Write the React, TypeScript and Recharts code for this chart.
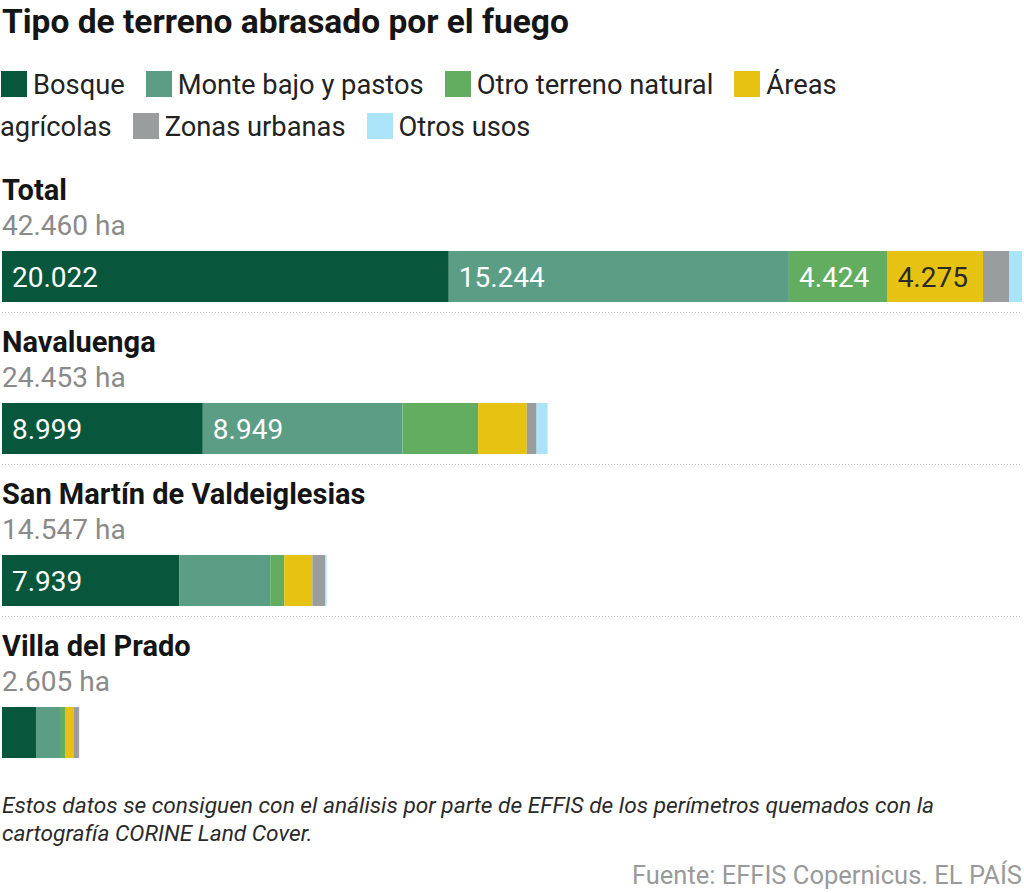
import { Fragment } from "react";
import { Bar, BarChart, LabelList, XAxis, YAxis } from "recharts";

document.body.style.margin = "0";

const zonas = ["Total", "Navaluenga", "San Martín de Valdeiglesias", "Villa del Prado"];
const hectareas = [42460, 24453, 14547, 2605];

// hectáreas por tipo de terreno
const bosque = [20022, 8999, 7939, 1523];
const monteBajo = [15244, 8949, 4080, 1075];
const otroNatural = [4424, 3390, 630, 224];
const agricolas = [4275, 2180, 1260, 403];
const urbanas = [1165, 440, 585, 224];
const otrosUsos = [582, 495, 53, 20];

const SERIES = [
  { key: "bosque", name: "Bosque", color: "#08573d", ink: "#fff", values: bosque },
  { key: "monte", name: "Monte bajo y pastos", color: "#5b9d85", ink: "#fff", values: monteBajo },
  { key: "otro", name: "Otro terreno natural", color: "#63ad60", ink: "#fff", values: otroNatural },
  { key: "agricolas", name: "Áreas agrícolas", color: "#e6c213", ink: "#2a2a2a", values: agricolas },
  { key: "urbanas", name: "Zonas urbanas", color: "#9a9d9d", ink: "#fff", values: urbanas },
  { key: "otros", name: "Otros usos", color: "#abe3f8", ink: "#2a2a2a", values: otrosUsos },
];

const FONT = "Roboto, 'Noto Sans', sans-serif";

const data = zonas.map((zona, i) => {
  const row: Record<string, string | number> = { zona, ha: hectareas[i] };
  SERIES.forEach((s) => {
    row[s.key] = s.values[i];
  });
  return row;
});

// 42460 -> "42.460"
function fmt(n: number): string {
  return String(Math.round(n)).replace(/\B(?=(\d{3})+(?!\d))/g, ".");
}

type LabelProps = {
  x?: number;
  y?: number;
  width?: number;
  height?: number;
  value?: number | string;
  index?: number;
};

// nombre de la zona, hectáreas y separador punteado, encima de cada barra
function ZoneHeader(props: LabelProps) {
  const y = Number(props.y ?? 0);
  const h = Number(props.height ?? 0);
  const i = props.index ?? 0;
  const mid = y + h / 2;
  return (
    <g style={{ fontFamily: FONT }}>
      <text x={2} y={mid - 76.5} fontSize={29} fontWeight={700} fill="#151515">
        {zonas[i]}
      </text>
      <text x={2} y={mid - 41.5} fontSize={28} fill="#8a8a8a">
        {fmt(hectareas[i])} ha
      </text>
      {i < zonas.length - 1 && (
        <line x1={2} x2={1022} y1={mid + 36} y2={mid + 36} stroke="#c4c4c4" strokeDasharray="1 2" />
      )}
    </g>
  );
}

function makeSegmentLabel(ink: string) {
  return function SegmentLabel(props: LabelProps) {
    const x = Number(props.x ?? 0);
    const y = Number(props.y ?? 0);
    const w = Number(props.width ?? 0);
    const h = Number(props.height ?? 0);
    if (w < 95) return null;
    return (
      <text x={x + 10} y={y + h / 2 + 10} fontSize={28} fill={ink} style={{ fontFamily: FONT }}>
        {fmt(Number(props.value))}
      </text>
    );
  };
}

function Legend() {
  return (
    <div
      style={{
        position: "absolute",
        left: 0,
        top: 64,
        width: 900,
        fontSize: 27.3,
        lineHeight: "42px",
        color: "#222",
      }}
    >
      {SERIES.map((s) => (
        <Fragment key={s.key}>
          <span
            style={{
              display: "inline-block",
              width: 26,
              height: 26,
              background: s.color,
              verticalAlign: -3,
              marginLeft: 1,
              marginRight: 6,
            }}
          />
          <span style={{ marginRight: 20 }}>{s.name}</span>
        </Fragment>
      ))}
    </div>
  );
}

export default function App() {
  return (
    <div
      style={{
        position: "relative",
        width: 1024,
        height: 893,
        background: "#fff",
        fontFamily: FONT,
        overflow: "hidden",
      }}
    >
      <div
        style={{
          position: "absolute",
          left: 2,
          top: 5,
          fontSize: 33.5,
          lineHeight: "34px",
          fontWeight: 700,
          color: "#151515",
          whiteSpace: "nowrap",
        }}
      >
        Tipo de terreno abrasado por el fuego
      </div>
      <Legend />
      <div style={{ position: "absolute", left: 0, top: 0 }}>
        <BarChart
          width={1024}
          height={893}
          data={data}
          layout="vertical"
          margin={{ top: 200, right: 2, bottom: 85, left: 2 }}
        >
          <XAxis type="number" hide domain={[0, "dataMax"]} />
          <YAxis type="category" dataKey="zona" hide />
          {SERIES.map((s, k) => (
            <Bar
              key={s.key}
              dataKey={s.key}
              name={s.name}
              stackId="a"
              fill={s.color}
              barSize={51}
              isAnimationActive={false}
            >
              <LabelList dataKey={s.key} content={makeSegmentLabel(s.ink)} />
              {k === 0 && <LabelList dataKey="zona" content={ZoneHeader} />}
            </Bar>
          ))}
        </BarChart>
      </div>
      <div
        style={{
          position: "absolute",
          left: 2,
          top: 792,
          width: 1020,
          fontSize: 22.7,
          lineHeight: "28px",
          fontStyle: "italic",
          color: "#2a2a2a",
          whiteSpace: "nowrap",
        }}
      >
        Estos datos se consiguen con el análisis por parte de EFFIS de los perímetros quemados con la
        <br />
        cartografía CORINE Land Cover.
      </div>
      <div
        style={{
          position: "absolute",
          right: 2,
          top: 862,
          fontSize: 25.5,
          lineHeight: "26px",
          color: "#9a9a9a",
          whiteSpace: "nowrap",
        }}
      >
        Fuente: EFFIS Copernicus. EL PAÍS
      </div>
    </div>
  );
}
